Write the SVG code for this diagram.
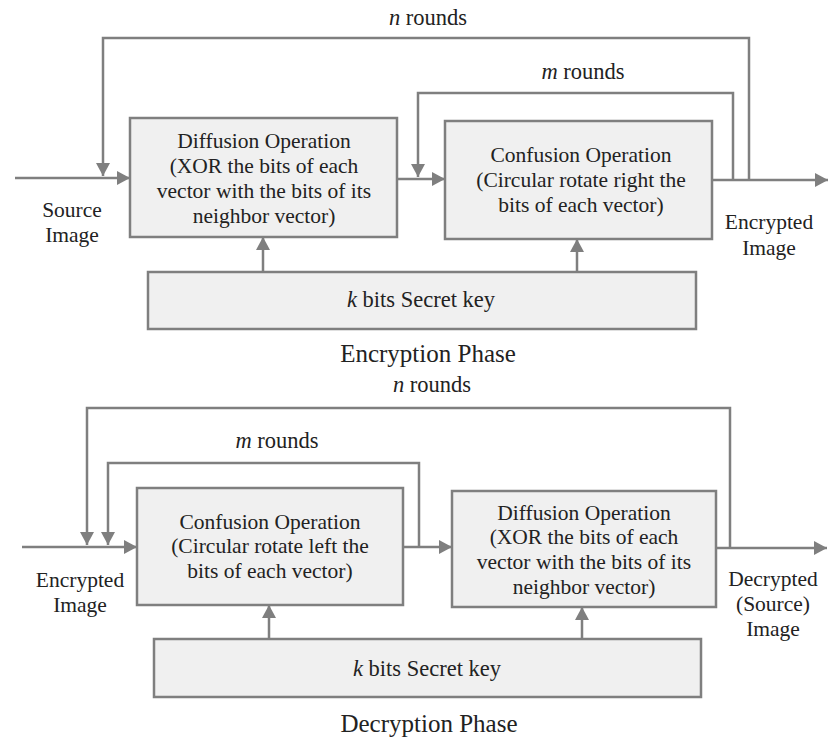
<svg xmlns="http://www.w3.org/2000/svg" width="829" height="740" viewBox="0 0 829 740">
<style>
.box{fill:#f0f0f0;stroke:#7f7f7f;stroke-width:2.5}
.ln{fill:none;stroke:#7f7f7f;stroke-width:2.5}
text{font-family:'Liberation Serif','Times New Roman',serif;font-size:21.5px;fill:#222;text-anchor:middle}
.rd{font-size:22.5px}
.ph{font-size:25px}
</style>
<defs>
<marker id="ah" viewBox="0 0 13 14" refX="13" refY="7" markerWidth="13" markerHeight="14" markerUnits="userSpaceOnUse" orient="auto">
<path d="M0,0 L13,7 L0,14 Z" fill="#7f7f7f"/>
</marker>
</defs>
<rect width="829" height="740" fill="#fff"/>
<g id="connectors">
<line class="ln" x1="15" y1="178" x2="130" y2="178" marker-end="url(#ah)"/>
<path class="ln" d="M749,180 V38 H103 V176" marker-end="url(#ah)"/>
<path class="ln" d="M733,180 V93 H418 V177" marker-end="url(#ah)"/>
<line class="ln" x1="397" y1="179" x2="445" y2="179" marker-end="url(#ah)"/>
<line class="ln" x1="712" y1="180" x2="828" y2="180" marker-end="url(#ah)"/>
<line class="ln" x1="263" y1="272" x2="263" y2="237" marker-end="url(#ah)"/>
<line class="ln" x1="577" y1="272" x2="577" y2="239" marker-end="url(#ah)"/>
<line class="ln" x1="22" y1="547" x2="137" y2="547" marker-end="url(#ah)"/>
<path class="ln" d="M730,548 V408 H87 V545" marker-end="url(#ah)"/>
<path class="ln" d="M419,547 V463 H108 V545" marker-end="url(#ah)"/>
<line class="ln" x1="403" y1="547" x2="452" y2="547" marker-end="url(#ah)"/>
<line class="ln" x1="716" y1="548" x2="827" y2="548" marker-end="url(#ah)"/>
<line class="ln" x1="269" y1="639" x2="269" y2="605" marker-end="url(#ah)"/>
<line class="ln" x1="582" y1="639" x2="582" y2="607" marker-end="url(#ah)"/>
</g>
<g id="enc-diffusion">
<rect class="box" x="130" y="118" width="267" height="119"/>
<text x="264" y="148">Diffusion Operation</text>
<text x="264" y="173">(XOR the bits of each</text>
<text x="264" y="198">vector with the bits of its</text>
<text x="264" y="223">neighbor vector)</text>
</g>
<g id="enc-confusion">
<rect class="box" x="445" y="121" width="267" height="118"/>
<text x="581" y="162">Confusion Operation</text>
<text x="581" y="187">(Circular rotate right the</text>
<text x="581" y="212">bits of each vector)</text>
</g>
<g id="enc-key">
<rect class="box" x="148" y="272" width="548" height="57"/>
<text class="rd" x="421" y="307"><tspan font-style="italic">k</tspan> bits Secret key</text>
</g>
<g id="enc-labels">
<text x="72" y="217">Source</text>
<text x="72" y="242">Image</text>
<text x="769" y="229">Encrypted</text>
<text x="769" y="255">Image</text>
<text class="rd" x="428" y="25"><tspan font-style="italic">n</tspan> rounds</text>
<text class="rd" x="583" y="79"><tspan font-style="italic">m</tspan> rounds</text>
<text class="ph" x="428" y="362">Encryption Phase</text>
</g>
<g id="dec-confusion">
<rect class="box" x="137" y="488" width="266" height="117"/>
<text x="270" y="529">Confusion Operation</text>
<text x="270" y="553">(Circular rotate left the</text>
<text x="270" y="578">bits of each vector)</text>
</g>
<g id="dec-diffusion">
<rect class="box" x="452" y="491" width="264" height="116"/>
<text x="584" y="520">Diffusion Operation</text>
<text x="584" y="544">(XOR the bits of each</text>
<text x="584" y="569">vector with the bits of its</text>
<text x="584" y="594">neighbor vector)</text>
</g>
<g id="dec-key">
<rect class="box" x="154" y="639" width="547" height="58"/>
<text class="rd" x="427" y="676"><tspan font-style="italic">k</tspan> bits Secret key</text>
</g>
<g id="dec-labels">
<text x="80" y="587">Encrypted</text>
<text x="80" y="612">Image</text>
<text x="773" y="586">Decrypted</text>
<text x="773" y="611">(Source)</text>
<text x="773" y="636">Image</text>
<text class="rd" x="432" y="392"><tspan font-style="italic">n</tspan> rounds</text>
<text class="rd" x="277" y="448"><tspan font-style="italic">m</tspan> rounds</text>
<text class="ph" x="429" y="732">Decryption Phase</text>
</g>
</svg>
